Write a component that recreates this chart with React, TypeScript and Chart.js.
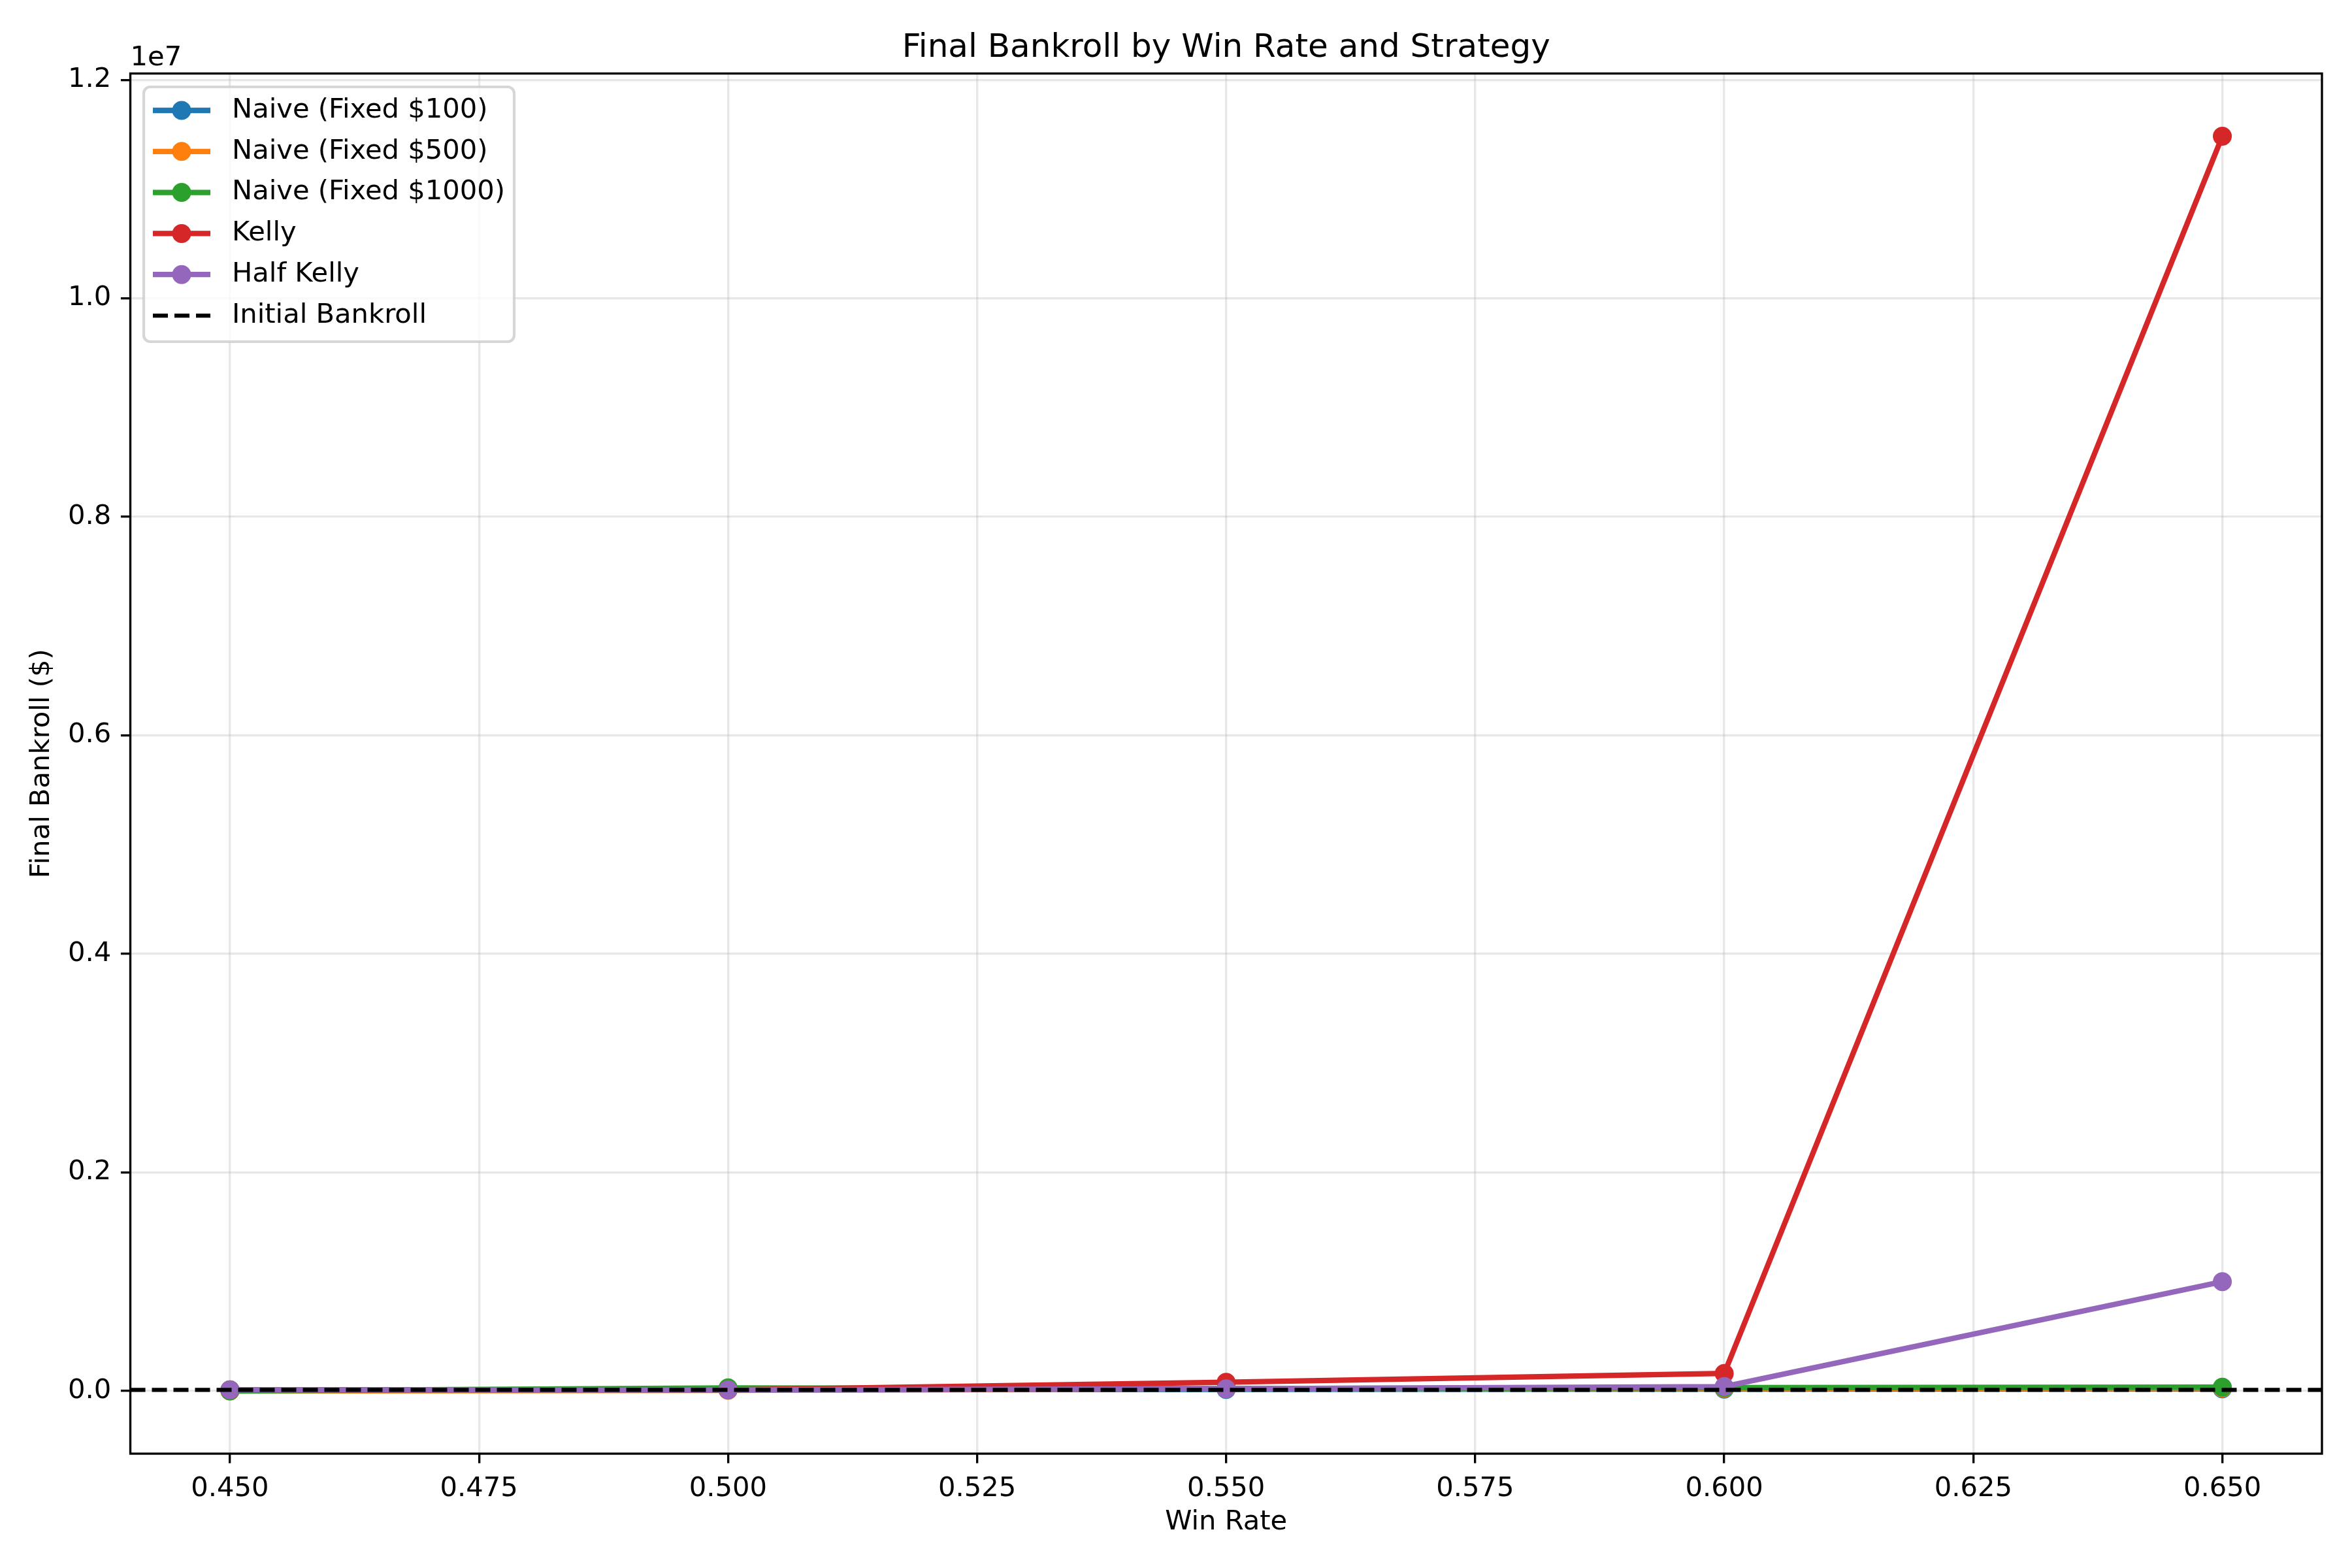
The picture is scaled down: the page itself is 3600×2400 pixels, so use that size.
import React, { useEffect, useRef } from 'react';
import { Chart, registerables } from 'chart.js';

Chart.register(...registerables);

const winRates = [0.45, 0.5, 0.55, 0.6, 0.65];
const naive100 = [7000, 10500, 14000, 17000, 19000];
const naive500 = [0, 6000, 20000, 24000, 27000];
const naive1000 = [0, 28000, 22000, 30000, 35000];
const kelly = [10000, 10000, 80000, 160000, 11484000];
const halfKelly = [10000, 10000, 20000, 40000, 1000000];
const initialBankroll = 10000;

const xTicks = [0.45, 0.475, 0.5, 0.525, 0.55, 0.575, 0.6, 0.625, 0.65];
const yTicks = [0, 2e6, 4e6, 6e6, 8e6, 1e7, 1.2e7];
const xMin = 0.44;
const xMax = 0.66;
const yMin = -574000;
const yMax = 12058000;

const series = [
  { label: 'Naive (Fixed $100)', values: naive100, color: '#1f77b4' },
  { label: 'Naive (Fixed $500)', values: naive500, color: '#ff7f0e' },
  { label: 'Naive (Fixed $1000)', values: naive1000, color: '#2ca02c' },
  { label: 'Kelly', values: kelly, color: '#d62728' },
  { label: 'Half Kelly', values: halfKelly, color: '#9467bd' },
];

const FONT = '"DejaVu Sans", sans-serif';
const PT = 300 / 72;
const LW = 2 * PT;
const DASH = [23, 10];
const MARKER = 14.5;

const decor = {
  id: 'decor',
  afterDatasetsDraw(chart: any) {
    const { ctx, chartArea: a } = chart;
    ctx.save();
    ctx.strokeStyle = '#000';
    ctx.lineWidth = 0.8 * PT;
    ctx.strokeRect(a.left, a.top, a.right - a.left, a.bottom - a.top);
    ctx.restore();
  },
  afterDraw(chart: any) {
    const { ctx, chartArea: a } = chart;
    ctx.save();
    // title
    ctx.fillStyle = '#000';
    ctx.font = `${12 * PT}px ${FONT}`;
    ctx.textAlign = 'center';
    ctx.textBaseline = 'alphabetic';
    ctx.fillText('Final Bankroll by Win Rate and Strategy', (a.left + a.right) / 2, 87);
    // offset text
    ctx.font = `${10 * PT}px ${FONT}`;
    ctx.textAlign = 'left';
    ctx.fillText('1e7', a.left, 100);

    // legend
    const bx = 220, by = 133, bw = 567, bh = 390, r = 10;
    ctx.beginPath();
    ctx.moveTo(bx + r, by);
    ctx.arcTo(bx + bw, by, bx + bw, by + bh, r);
    ctx.arcTo(bx + bw, by + bh, bx, by + bh, r);
    ctx.arcTo(bx, by + bh, bx, by, r);
    ctx.arcTo(bx, by, bx + bw, by, r);
    ctx.closePath();
    ctx.fillStyle = 'rgba(255,255,255,0.8)';
    ctx.fill();
    ctx.strokeStyle = 'rgba(204,204,204,0.8)';
    ctx.lineWidth = 1 * PT;
    ctx.stroke();

    const rows = [
      ...series.map((s) => ({ label: s.label, color: s.color, dashed: false })),
      { label: 'Initial Bankroll', color: '#000', dashed: true },
    ];
    ctx.font = `${10 * PT}px ${FONT}`;
    ctx.textBaseline = 'middle';
    rows.forEach((row, i) => {
      const y = 169 + i * 62.8;
      ctx.strokeStyle = row.color;
      ctx.lineWidth = row.dashed ? 1.5 * PT : LW;
      ctx.setLineDash(row.dashed ? DASH : []);
      ctx.beginPath();
      ctx.moveTo(234, y);
      ctx.lineTo(322, y);
      ctx.stroke();
      ctx.setLineDash([]);
      if (!row.dashed) {
        ctx.fillStyle = row.color;
        ctx.beginPath();
        ctx.arc(278, y, MARKER, 0, Math.PI * 2);
        ctx.fill();
      }
      ctx.fillStyle = '#000';
      ctx.fillText(row.label, 355, y);
    });
    ctx.restore();
  },
};

export default function App() {
  const ref = useRef<HTMLCanvasElement>(null);
  useEffect(() => {
    if (!ref.current) return;
    const tickFont = { family: FONT, size: 10 * PT };
    const gridOpts = {
      color: 'rgba(176,176,176,0.3)',
      lineWidth: 0.8 * PT,
      tickColor: '#000',
      tickWidth: 0.8 * PT,
      tickLength: 3.5 * PT,
    };
    const datasets: any[] = series.map((s, i) => ({
      label: s.label,
      data: winRates.map((x, j) => ({ x, y: s.values[j] })),
      borderColor: s.color,
      backgroundColor: s.color,
      borderWidth: LW,
      pointRadius: MARKER,
      pointBorderWidth: 0,
      pointBackgroundColor: s.color,
      tension: 0,
      order: 10 - i,
    }));
    datasets.push({
      label: 'Initial Bankroll',
      data: [{ x: xMin, y: initialBankroll }, { x: xMax, y: initialBankroll }],
      borderColor: '#000',
      borderWidth: 1.5 * PT,
      borderDash: DASH,
      pointRadius: 0,
      order: 1,
    });
    const chart = new Chart(ref.current, {
      type: 'line',
      data: { datasets },
      options: {
        animation: false,
        responsive: false,
        devicePixelRatio: 1,
        layout: { padding: { top: 112.5, right: 46, left: 0, bottom: 0 } },
        plugins: { legend: { display: false }, title: { display: false }, tooltip: { enabled: false } },
        scales: {
          x: {
            type: 'linear',
            min: xMin,
            max: xMax,
            afterBuildTicks: (s: any) => { s.ticks = xTicks.map((v) => ({ value: v })); },
            afterFit: (s: any) => { s.height = 175; },
            ticks: { color: '#000', font: tickFont, padding: 3.5 * PT, maxRotation: 0, callback: (v: any) => Number(v).toFixed(3) },
            grid: gridOpts,
            border: { display: false },
            title: { display: true, text: 'Win Rate', color: '#000', font: tickFont, padding: { top: 0, bottom: 45 } },
          },
          y: {
            type: 'linear',
            min: yMin,
            max: yMax,
            afterBuildTicks: (s: any) => { s.ticks = yTicks.map((v) => ({ value: v })); },
            afterFit: (s: any) => { s.width = 199.5; },
            ticks: { color: '#000', font: tickFont, padding: 3.5 * PT, callback: (v: any) => (Number(v) / 1e7).toFixed(1) },
            grid: gridOpts,
            border: { display: false },
            title: { display: true, text: 'Final Bankroll ($)', color: '#000', font: tickFont, padding: { top: 39, bottom: 0 } },
          },
        },
      },
      plugins: [decor],
    });
    return () => chart.destroy();
  }, []);
  return (
    <div style={{ position: 'absolute', left: 0, top: 0, width: 3600, height: 2400, background: '#fff' }}>
      <canvas ref={ref} width={3600} height={2400} />
    </div>
  );
}
